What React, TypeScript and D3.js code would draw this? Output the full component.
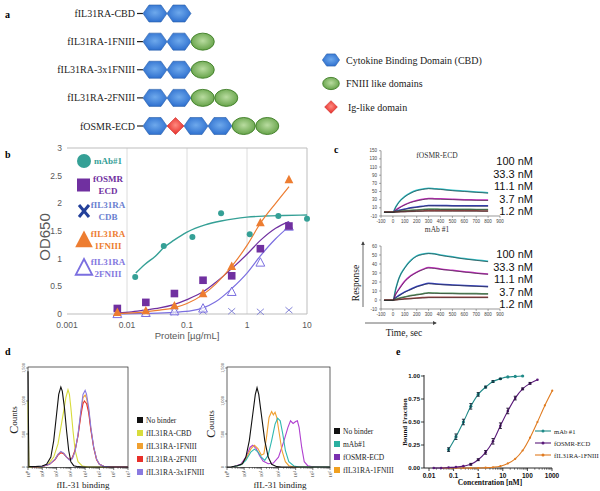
import React from "react";
import * as d3 from "d3";

const SERIF = "Liberation Serif, 'Times New Roman', serif";
const SANS = "Liberation Sans, Arial, sans-serif";

// ---------- Panel a ----------
const constructNames = ["fIL31RA-CBD", "fIL31RA-1FNIII", "fIL31RA-3x1FNIII", "fIL31RA-2FNIII", "fOSMR-ECD"];
const constructDomains = [
  ["CBD", "CBD"],
  ["CBD", "CBD", "FN"],
  ["CBD", "CBD", "FN"],
  ["CBD", "CBD", "FN", "FN"],
  ["CBD", "Ig", "CBD", "CBD", "FN", "FN"],
];
const domainLegend = ["Cytokine Binding Domain (CBD)", "FNIII like domains", "Ig-like domain"];

// ---------- Panel b ----------
const elisaDoses = [0.0069, 0.0206, 0.0617, 0.185, 0.556, 1.67, 5];
const mabDoses = [0.0137, 0.041, 0.123, 0.37, 1.11, 3.33, 10];
const mabOD = [0.67, 1.23, 1.39, 1.82, 1.44, 1.77, 1.72];
const osmrOD = [0.1, 0.21, 0.37, 0.61, 0.69, 1.18, 1.59];
const cbdOD = [0.01, 0.02, 0.03, 0.05, 0.05, 0.04, 0.07];
const fn1OD = [0.03, 0.06, 0.15, 0.37, 0.86, 1.65, 2.43];
const fn2OD = [0.0, 0.02, 0.05, 0.1, 0.4, 0.93, 1.58];
const mabFitX = [0.014, 0.02, 0.03, 0.041, 0.06, 0.1, 0.2, 0.37, 0.6, 1, 2, 4, 10];
const mabFitY = [0.74, 0.9, 1.05, 1.2, 1.33, 1.48, 1.61, 1.68, 1.72, 1.75, 1.77, 1.78, 1.79];
const osmrFitX = [0.007, 0.012, 0.02, 0.035, 0.06, 0.1, 0.185, 0.3, 0.556, 1, 1.67, 3, 5];
const osmrFitY = [0.02, 0.04, 0.07, 0.11, 0.17, 0.26, 0.4, 0.57, 0.82, 1.08, 1.33, 1.55, 1.67];
const fn1FitX = [0.007, 0.012, 0.02, 0.035, 0.06, 0.1, 0.185, 0.3, 0.556, 1, 1.67, 3, 5];
const fn1FitY = [0.01, 0.02, 0.04, 0.07, 0.11, 0.19, 0.35, 0.54, 0.86, 1.24, 1.64, 2.0, 2.3];
const fn2FitX = [0.007, 0.02, 0.06, 0.12, 0.185, 0.3, 0.556, 1, 1.67, 3, 5];
const fn2FitY = [0.0, 0.01, 0.03, 0.06, 0.11, 0.22, 0.46, 0.74, 1.05, 1.36, 1.58];
const bXTicks = [0.001, 0.01, 0.1, 1, 10];
const bXTickLabels = ["0.001", "0.01", "0.1", "1", "10"];
const bYTicks = [0, 0.5, 1, 1.5, 2, 2.5, 3];
const bLegendNames = [["mAb#1"], ["fOSMR", "ECD"], ["fIL31RA", "CDB"], ["fIL31RA", "1FNIII"], ["fIL31RA", "2FNIII"]];

// ---------- Panel c ----------
const kinT = [-75, 0, 25, 50, 100, 150, 200, 250, 300, 350, 400, 500, 600, 700, 800];
const osmr100 = [0, 0, 13, 24, 38, 47, 53, 56, 58, 57, 56, 53, 51, 49, 47];
const osmr33 = [0, 0, 5, 10, 18, 24, 28, 31, 33, 32.5, 32, 31, 30, 29.5, 29];
const osmr11 = [0, 0, 2, 4, 7, 10, 12, 14, 16, 15.8, 15.6, 15.4, 15.2, 15, 15];
const osmr37 = [0, 0, 0.8, 1.6, 3, 4, 5, 6, 7, 6.9, 6.8, 6.6, 6.4, 6.2, 6];
const osmr12 = [0, 0, 0.3, 0.6, 1.1, 1.6, 2, 2.5, 3, 3, 2.9, 2.8, 2.7, 2.6, 2.5];
const mab100 = [0, 0, 13, 24, 36, 44, 49, 51, 52, 51.5, 50, 48, 46, 44.5, 43];
const mab33 = [0, 0, 7, 12, 21, 27, 31, 34, 36, 35.5, 34.5, 33, 31.5, 30, 29];
const mab11 = [0, 0, 2.8, 5, 9, 12, 15, 17, 18.5, 18, 17.5, 16.8, 16.2, 15.6, 15];
const mab37 = [0, 0, 1, 2, 3.5, 5, 6, 7, 8, 7.8, 7.6, 7.4, 7.2, 7.1, 7];
const mab12 = [0, 0, 0.4, 0.7, 1.3, 1.8, 2.3, 2.7, 3, 3, 3, 3, 3, 3, 3];
const concLabels = ["100 nM", "33.3 nM", "11.1 nM", "3.7 nM", "1.2 nM"];
const cXTicks = [-100, 0, 100, 200, 300, 400, 500, 600, 700, 800, 900];
const cTopYTicks = [-10, 10, 30, 50, 70, 90, 110, 130, 150];
const cBotYTicks = [-10, 0, 10, 20, 30, 40, 50, 60];

// ---------- Panel d ----------
const histLeftNoBinder = [[0, 1450], [0.06, 5], [0.5, 5], [1, 15], [1.3, 40], [1.6, 150], [1.8, 400], [2.0, 800], [2.15, 1100], [2.3, 1210], [2.4, 1150], [2.55, 900], [2.7, 550], [2.85, 250], [3.0, 80], [3.2, 20], [3.5, 5], [4, 0], [7, 0]];
const histLeftCBD = [[0, 1000], [0.06, 0], [1.0, 0], [1.4, 40], [1.8, 150], [2.1, 350], [2.3, 600], [2.5, 850], [2.65, 1050], [2.8, 1170], [2.9, 1100], [3.0, 900], [3.15, 550], [3.3, 250], [3.5, 80], [3.8, 15], [4.2, 0], [7, 0]];
const histLeft1FN = [[0.3, 0], [1, 10], [1.5, 40], [1.9, 120], [2.1, 190], [2.3, 225], [2.5, 205], [2.7, 150], [2.9, 110], [3.1, 130], [3.3, 250], [3.5, 480], [3.7, 820], [3.85, 1050], [4.0, 1090], [4.1, 1040], [4.25, 860], [4.4, 580], [4.6, 300], [4.8, 120], [5.0, 40], [5.3, 10], [5.8, 0], [7, 0]];
const histLeft2FN = [[0.3, 0], [1, 10], [1.5, 40], [1.9, 110], [2.1, 180], [2.3, 215], [2.5, 200], [2.7, 150], [2.9, 115], [3.1, 140], [3.3, 260], [3.5, 470], [3.7, 780], [3.85, 960], [3.95, 1000], [4.1, 960], [4.25, 820], [4.4, 560], [4.6, 290], [4.8, 110], [5.0, 40], [5.3, 10], [5.8, 0], [7, 0]];
const histLeft3x1FN = [[0.3, 0], [1, 10], [1.5, 40], [1.9, 120], [2.1, 190], [2.3, 235], [2.5, 210], [2.7, 150], [2.9, 105], [3.1, 125], [3.3, 240], [3.5, 490], [3.7, 850], [3.85, 1100], [4.0, 1160], [4.1, 1100], [4.25, 900], [4.4, 600], [4.6, 300], [4.8, 120], [5.0, 40], [5.3, 10], [5.8, 0], [7, 0]];
const histRightNoBinder = [[0, 0], [0.2, 0], [0.6, 20], [0.9, 50], [1.1, 150], [1.3, 400], [1.5, 800], [1.65, 1100], [1.75, 1200], [1.85, 1100], [2.0, 800], [2.2, 400], [2.4, 150], [2.6, 40], [2.9, 5], [3.2, 0], [6, 0]];
const histRightMab = [[0.3, 0], [0.8, 30], [1.1, 100], [1.4, 230], [1.6, 270], [1.8, 230], [2.0, 150], [2.2, 100], [2.4, 180], [2.6, 400], [2.8, 650], [2.95, 740], [3.1, 700], [3.25, 500], [3.4, 250], [3.6, 80], [3.9, 15], [4.2, 0], [6, 0]];
const histRightOsmr = [[0.3, 0], [0.8, 40], [1.1, 150], [1.35, 300], [1.5, 330], [1.7, 280], [1.9, 170], [2.1, 90], [2.4, 50], [2.7, 60], [3.0, 150], [3.3, 380], [3.55, 600], [3.7, 700], [3.85, 660], [4.0, 690], [4.1, 700], [4.2, 600], [4.35, 300], [4.5, 80], [4.7, 20], [5.0, 5], [5.5, 0], [6, 0]];
const histRight1FN = [[0.3, 0], [0.8, 30], [1.1, 120], [1.4, 280], [1.6, 330], [1.8, 280], [2.0, 180], [2.15, 200], [2.3, 450], [2.45, 750], [2.6, 840], [2.7, 790], [2.8, 830], [2.9, 750], [3.05, 500], [3.2, 250], [3.4, 80], [3.6, 20], [3.9, 0], [6, 0]];
const dLeftLegend = ["No binder", "fIL31RA-CBD", "fIL31RA-1FNIII", "fIL31RA-2FNIII", "fIL31RA-3x1FNIII"];
const dRightLegend = ["No binder", "mAb#1", "fOSMR-ECD", "fIL31RA-1FNIII"];
const dYTicks = [0, 500, 1000, 1500];
const dYTickLabels = ["0", "500", "1,000", "1,500"];

// ---------- Panel e ----------
const eMabConc = [0.0625, 0.125, 0.25, 0.5, 1, 2, 4, 8, 16, 32, 64];
const eMabBF = [0.2, 0.34, 0.5, 0.67, 0.8, 0.88, 0.94, 0.97, 0.99, 0.995, 1.0];
const eMabErr = [0.02, 0.03, 0.03, 0.03, 0.02, 0.01, 0.01, 0.005, 0, 0, 0];
const eOsmrConc = [0.0156, 0.03125, 0.0625, 0.125, 0.25, 0.5, 1, 2, 4, 8, 16, 32, 64, 128, 256];
const eOsmrBF = [0, 0, 0.005, 0.01, 0.02, 0.04, 0.09, 0.17, 0.29, 0.46, 0.62, 0.76, 0.86, 0.92, 0.96];
const eOsmrErr = [0, 0, 0, 0, 0, 0.01, 0.01, 0.02, 0.03, 0.03, 0.03, 0.02, 0.01, 0.01, 0];
const eFnConc = [0.03125, 0.0625, 0.125, 0.25, 0.5, 1, 2, 4, 8, 16, 32, 64, 128, 256, 512, 1024];
const eFnBF = [0, 0, 0, 0, 0, 0, 0.003, 0.008, 0.02, 0.05, 0.1, 0.19, 0.33, 0.5, 0.68, 0.84];
const eXTicks = [0.01, 0.1, 1, 10, 100, 1000];
const eXTickLabels = ["0.01", "0.1", "1", "10", "100", "1000"];
const eYTicks = [0, 0.25, 0.5, 0.75, 1];
const eYTickLabels = ["0.00", "0.25", "0.50", "0.75", "1.00"];
const eLegend = ["mAb #1", "fOSMR-ECD", "fIL31RA-1FNIII"];

// ================= Components =================
function hexPath(w: number, h: number) {
  return `M${-w / 2},0L${-w / 4},${-h / 2}L${w / 4},${-h / 2}L${w / 2},0L${w / 4},${h / 2}L${-w / 4},${h / 2}Z`;
}
function diamondPath(s: number) {
  return `M${-s},0L0,${-s}L${s},0L0,${s}Z`;
}

function DomainShape({ kind, cx, cy, scale = 1 }: any) {
  if (kind === "CBD")
    return <path d={hexPath(24 * scale, 17 * scale)} transform={`translate(${cx},${cy})`} fill="url(#hexGrad)" stroke="#2a5faa" strokeWidth={0.6} />;
  if (kind === "FN")
    return <ellipse cx={cx} cy={cy} rx={11.5 * scale} ry={8.5 * scale} fill="url(#fnGrad)" stroke="#3d7d25" strokeWidth={0.9} />;
  return <path d={diamondPath(8.5 * scale)} transform={`translate(${cx},${cy})`} fill="url(#igGrad)" stroke="#c81a18" strokeWidth={0.5} />;
}

const domainW: any = { CBD: 24, FN: 23.5, Ig: 17 };

function PanelA() {
  const rowY = d3.scalePoint<string>().domain(constructNames).range([13.5, 126]);
  const legY = d3.scalePoint<string>().domain(domainLegend).range([60, 107]);
  const legKinds = ["CBD", "FN", "Ig"];
  return (
    <g>
      <text x={5} y={18} fontFamily={SERIF} fontWeight="bold" fontSize={10}>a</text>
      {constructNames.map((name, i) => {
        const y = rowY(name)!;
        let x = 143;
        const shapes = constructDomains[i].map((k, j) => {
          const w = domainW[k];
          const cx = x + w / 2;
          x += w;
          return <DomainShape key={j} kind={k} cx={cx} cy={y} />;
        });
        return (
          <g key={name}>
            <text x={135} y={y} textAnchor="end" dominantBaseline="central" fontFamily={SERIF} fontSize={10} fill="#222">{name}</text>
            <line x1={137} x2={143} y1={y} y2={y} stroke="#222" strokeWidth={1.2} />
            {shapes}
          </g>
        );
      })}
      {domainLegend.map((t, i) => {
        const y = legY(t)!;
        return (
          <g key={t}>
            <DomainShape kind={legKinds[i]} cx={331} cy={y} scale={i === 2 ? 0.75 : 0.72} />
            <text x={i === 2 ? 348 : 346} y={y} dominantBaseline="central" fontFamily={SERIF} fontSize={10} fill="#222">{t}</text>
          </g>
        );
      })}
    </g>
  );
}

function triPath(s: number) {
  return `M0,${-s * 0.6}L${s * 0.55},${s * 0.45}L${-s * 0.55},${s * 0.45}Z`;
}

function PanelB() {
  const x = d3.scaleLog().domain([0.001, 10]).range([67, 307]);
  const y = d3.scaleLinear().domain([0, 3]).range([314, 148]);
  const lg = d3.line<[number, number]>().x((d) => x(d[0])).y((d) => y(d[1])).curve(d3.curveMonotoneX);
  const zip = (a: number[], b: number[]) => a.map((v, i) => [v, b[i]] as [number, number]);
  const teal = "#35a096", purple = "#7030a0", orange = "#ed7d31", fn2c = "#7b6fe0", xcol = "#8585d8";
  const legY = [161, 185, 211, 240, 268];
  return (
    <g>
      <text x={5} y={158} fontFamily={SERIF} fontWeight="bold" fontSize={10}>b</text>
      {[0.01, 0.1, 1].map((t) => (
        <line key={t} x1={x(t)} x2={x(t)} y1={148} y2={314} stroke="#dcdcdc" strokeWidth={1} />
      ))}
      <line x1={67} x2={307} y1={148} y2={148} stroke="#bdbdbd" />
      <line x1={307} x2={307} y1={148} y2={314} stroke="#bdbdbd" />
      <line x1={67} x2={307} y1={314} y2={314} stroke="#bdbdbd" />
      {bYTicks.map((t) => (
        <text key={t} x={62} y={y(t)} textAnchor="end" dominantBaseline="central" fontFamily={SANS} fontSize={8.5} fill="#595959">{t}</text>
      ))}
      {bXTicks.map((t, i) => (
        <text key={t} x={x(t)} y={325} textAnchor="middle" dominantBaseline="central" fontFamily={SANS} fontSize={8.5} fill="#595959">{bXTickLabels[i]}</text>
      ))}
      <text transform="translate(44,237) rotate(-90)" textAnchor="middle" dominantBaseline="central" fontFamily={SANS} fontSize={15} fill="#595959">OD650</text>
      <text x={187} y={335} textAnchor="middle" dominantBaseline="central" fontFamily={SANS} fontSize={9.5} fill="#595959">Protein [µg/mL]</text>
      <path d={lg(zip(mabFitX, mabFitY))!} fill="none" stroke={teal} strokeWidth={1.4} />
      <path d={lg(zip(fn2FitX, fn2FitY))!} fill="none" stroke={fn2c} strokeWidth={1.2} />
      <path d={lg(zip(osmrFitX, osmrFitY))!} fill="none" stroke={purple} strokeWidth={1.2} />
      <path d={lg(zip(fn1FitX, fn1FitY))!} fill="none" stroke={orange} strokeWidth={1.2} />
      {mabDoses.map((d, i) => <circle key={"m" + i} cx={x(d)} cy={y(mabOD[i])} r={3} fill={teal} />)}
      {elisaDoses.map((d, i) => {
        const cx = x(d), cy = y(cbdOD[i]);
        return (
          <g key={"x" + i} stroke={xcol} strokeWidth={1}>
            <line x1={cx - 3.5} x2={cx + 3.5} y1={cy - 3} y2={cy + 3} />
            <line x1={cx - 3.5} x2={cx + 3.5} y1={cy + 3} y2={cy - 3} />
          </g>
        );
      })}
      {elisaDoses.map((d, i) => <path key={"t2" + i} d={triPath(8)} transform={`translate(${x(d)},${y(fn2OD[i])})`} fill="white" fillOpacity={0.6} stroke={fn2c} strokeWidth={1} />)}
      {elisaDoses.map((d, i) => <rect key={"s" + i} x={x(d) - 3.8} y={y(osmrOD[i]) - 3.8} width={7.6} height={7.6} fill={purple} />)}
      {elisaDoses.map((d, i) => <path key={"t1" + i} d={triPath(8)} transform={`translate(${x(d)},${y(fn1OD[i])})`} fill={orange} />)}
      <circle cx={84} cy={legY[0]} r={7} fill={teal} />
      <rect x={77} y={legY[1] - 6.5} width={13} height={13} fill={purple} />
      <g stroke="#23409a" strokeWidth={3}>
        <line x1={79} x2={89} y1={legY[2] - 6} y2={legY[2] + 6} />
        <line x1={79} x2={89} y1={legY[2] + 6} y2={legY[2] - 6} />
      </g>
      <path d={triPath(16)} transform={`translate(84,${legY[3]})`} fill={orange} />
      <path d={triPath(15)} transform={`translate(84,${legY[4]})`} fill="white" stroke={fn2c} strokeWidth={1.8} />
      {bLegendNames.map((lines, i) => {
        const cols = [teal, purple, "#6a80d0", orange, "#8478e0"];
        return (
          <text key={i} fontFamily={SERIF} fontWeight="bold" fontSize={9} fill={cols[i]} textAnchor={lines.length > 1 ? "middle" : "start"}>
            {lines.length === 1 ? (
              <tspan x={94} y={legY[i]} dominantBaseline="central">{lines[0]}</tspan>
            ) : (
              lines.map((l, j) => (
                <tspan key={j} x={108} y={legY[i] - 6 + j * 12} dominantBaseline="central">{l}</tspan>
              ))
            )}
          </text>
        );
      })}
    </g>
  );
}

const kinColors = ["#2fc4cc", "#cc30c8", "#3442c8", "#5a9a62", "#a84848"];

function KineticPlot({ title, titleY, yTicks, yDomain, yRange, series, labelRange }: any) {
  const x = d3.scaleLinear().domain([-100, 900]).range([381, 500]);
  const y = d3.scaleLinear().domain(yDomain).range(yRange);
  const lg = d3.line<number>().x((_, i) => x(kinT[i])).y((d) => y(d)).curve(d3.curveMonotoneX);
  const ly = d3.scalePoint<string>().domain(concLabels).range(labelRange);
  const yb = yRange[0];
  return (
    <g>
      <text x={437} y={titleY} textAnchor="middle" dominantBaseline="central" fontFamily={SERIF} fontSize={7.5} fill="#333">{title}</text>
      <line x1={381} x2={381} y1={yRange[1]} y2={yb} stroke="#555" strokeWidth={0.6} />
      <line x1={381} x2={500} y1={yb} y2={yb} stroke="#555" strokeWidth={0.6} />
      {yTicks.map((t: number) => (
        <g key={t}>
          <line x1={379} x2={381} y1={y(t)} y2={y(t)} stroke="#555" strokeWidth={0.5} />
          <text x={377} y={y(t)} textAnchor="end" dominantBaseline="central" fontFamily={SANS} fontSize={4.5} fill="#444">{t}</text>
        </g>
      ))}
      {cXTicks.map((t) => (
        <g key={t}>
          <line x1={x(t)} x2={x(t)} y1={yb} y2={yb + 2} stroke="#555" strokeWidth={0.5} />
          <text x={x(t)} y={yb + 5} textAnchor="middle" dominantBaseline="central" fontFamily={SANS} fontSize={4.5} fill="#444">{t}</text>
        </g>
      ))}
      {series.map((s: number[], i: number) => (
        <path key={"c" + i} d={lg(s)!} fill="none" stroke={kinColors[i]} strokeWidth={1.5} />
      ))}
      {series.map((s: number[], i: number) => (
        <path key={"k" + i} d={lg(s)!} fill="none" stroke="#333" strokeWidth={0.8} strokeOpacity={0.8} transform="translate(0,0.4)" />
      ))}
      {concLabels.map((c) => (
        <text key={c} x={533} y={ly(c)} textAnchor="end" dominantBaseline="central" fontFamily={SANS} fontSize={11} fill="#111">{c}</text>
      ))}
    </g>
  );
}

function PanelC() {
  return (
    <g>
      <text x={334} y={153} fontFamily={SERIF} fontWeight="bold" fontSize={10}>c</text>
      <KineticPlot title="fOSMR-ECD" titleY={155} yTicks={cTopYTicks} yDomain={[-10, 150]} yRange={[216, 150.7]} series={[osmr100, osmr33, osmr11, osmr37, osmr12]} labelRange={[161, 211]} />
      <KineticPlot title="mAb #1" titleY={229} yTicks={cBotYTicks} yDomain={[-10, 60]} yRange={[309, 246]} series={[mab100, mab33, mab11, mab37, mab12]} labelRange={[254, 304]} />
      <line x1={363} x2={363} y1={307} y2={242} stroke="#444" strokeWidth={0.8} markerEnd="url(#arrow)" />
      <line x1={365} x2={436} y1={323} y2={323} stroke="#444" strokeWidth={0.8} markerEnd="url(#arrow)" />
      <text transform="translate(356,283) rotate(-90)" textAnchor="middle" dominantBaseline="central" fontFamily={SERIF} fontSize={9.5} fill="#222">Response</text>
      <text x={404} y={333} textAnchor="middle" dominantBaseline="central" fontFamily={SERIF} fontSize={9.5} fill="#222">Time, sec</text>
    </g>
  );
}

const supers = ["⁰", "¹", "²", "³", "⁴", "⁵", "⁶", "⁷"];

function Histogram({ x0, x1, n, series, colors }: any) {
  const x = d3.scaleLinear().domain([0, n - 1]).range([x0, x1]);
  const y = d3.scaleLinear().domain([0, 1500]).range([467, 368]);
  const lg = d3.line<number[]>().x((d) => x(d[0])).y((d) => y(d[1]));
  const ticks = d3.range(n);
  return (
    <g>
      <rect x={x0} y={367} width={x1 - x0} height={100.5} fill="none" stroke="#222" strokeWidth={0.7} />
      {series.map((s: number[][], i: number) => (
        <path key={i} d={lg(s as any)!} fill="none" stroke={colors[i]} strokeWidth={1.1} />
      ))}
      {dYTicks.map((t, i) => (
        <g key={t}>
          <line x1={x0 - 2} x2={x0} y1={y(t)} y2={y(t)} stroke="#222" strokeWidth={0.5} />
          <text transform={`translate(${x0 - 5},${y(t)}) rotate(-90)`} textAnchor="middle" dominantBaseline="central" fontFamily={SERIF} fontSize={4.5} fill="#333">{dYTickLabels[i]}</text>
        </g>
      ))}
      {ticks.map((t) => (
        <g key={t}>
          <line x1={x(t)} x2={x(t)} y1={467} y2={470} stroke="#222" strokeWidth={0.6} />
          {t < n - 1 && d3.range(2, 10).map((m) => {
            const xm = x(t + Math.log10(m));
            return <line key={m} x1={xm} x2={xm} y1={467} y2={469} stroke="#222" strokeWidth={0.4} />;
          })}
          <text transform={`translate(${x(t)},${474}) rotate(-90)`} textAnchor="middle" dominantBaseline="central" fontFamily={SERIF} fontSize={5} fill="#333">{"10" + supers[t]}</text>
        </g>
      ))}
    </g>
  );
}

function PanelD() {
  const leftColors = ["#d8dc3c", "#f0a030", "#e8302a", "#8a7ae0", "#111"];
  const rightColors = ["#b040d0", "#f0a030", "#30b8b0", "#111"];
  const legLeftColors = ["#111", "#d8dc3c", "#f0a030", "#e8302a", "#8a7ae0"];
  const legRightColors = ["#111", "#2ab0a0", "#7a30b0", "#f0a020"];
  const lyL = d3.scalePoint<string>().domain(dLeftLegend).range([420, 472]);
  const lyR = d3.scalePoint<string>().domain(dRightLegend).range([431, 470]);
  return (
    <g>
      <text x={5} y={355} fontFamily={SERIF} fontWeight="bold" fontSize={10}>d</text>
      <Histogram x0={28} x1={128} n={8} series={[histLeftCBD, histLeft1FN, histLeft2FN, histLeft3x1FN, histLeftNoBinder]} colors={leftColors} />
      <Histogram x0={227} x1={330} n={7} series={[histRightOsmr, histRight1FN, histRightMab, histRightNoBinder]} colors={rightColors} />
      <text transform="translate(14,420) rotate(-90)" textAnchor="middle" dominantBaseline="central" fontFamily={SERIF} fontSize={9} fill="#222"><tspan fontSize={12}>C</tspan>ounts</text>
      <text transform="translate(211,424) rotate(-90)" textAnchor="middle" dominantBaseline="central" fontFamily={SERIF} fontSize={9} fill="#222"><tspan fontSize={12}>C</tspan>ounts</text>
      <text x={83} y={485} textAnchor="middle" dominantBaseline="central" fontFamily={SERIF} fontSize={9} fill="#222">fIL-31 binding</text>
      <text x={280} y={485} textAnchor="middle" dominantBaseline="central" fontFamily={SERIF} fontSize={9} fill="#222">fIL-31 binding</text>
      {dLeftLegend.map((t, i) => (
        <g key={t}>
          <rect x={137} y={lyL(t)! - 3} width={6} height={6} fill={legLeftColors[i]} />
          <text x={146} y={lyL(t)} dominantBaseline="central" fontFamily={SERIF} fontSize={7.5} fill="#222">{t}</text>
        </g>
      ))}
      {dRightLegend.map((t, i) => (
        <g key={t}>
          <rect x={334} y={lyR(t)! - 3} width={6} height={6} fill={legRightColors[i]} />
          <text x={343} y={lyR(t)} dominantBaseline="central" fontFamily={SERIF} fontSize={7.5} fill="#222">{t}</text>
        </g>
      ))}
    </g>
  );
}

function PanelE() {
  const x = d3.scaleLog().domain([0.01, 1000]).range([429, 552]);
  const y = d3.scaleLinear().domain([0, 1]).range([468, 376]);
  const zip = (a: number[], b: number[]) => a.map((v, i) => [v, b[i]] as [number, number]);
  const lg = d3.line<[number, number]>().x((d) => x(d[0])).y((d) => y(d[1])).curve(d3.curveMonotoneX);
  const teal = "#1f8a88", purple = "#5a1a7a", orange = "#e07b20";
  const minor: number[] = [];
  [0.01, 0.1, 1, 10, 100].forEach((dec) => d3.range(2, 10).forEach((m) => minor.push(dec * m)));
  const errBars = (conc: number[], vals: number[], errs: number[], col: string) =>
    conc.map((c, i) =>
      errs[i] > 0 ? (
        <g key={i} stroke={col} strokeWidth={0.9}>
          <line x1={x(c)} x2={x(c)} y1={y(vals[i] - errs[i])} y2={y(vals[i] + errs[i])} />
          <line x1={x(c) - 1.5} x2={x(c) + 1.5} y1={y(vals[i] - errs[i])} y2={y(vals[i] - errs[i])} />
          <line x1={x(c) - 1.5} x2={x(c) + 1.5} y1={y(vals[i] + errs[i])} y2={y(vals[i] + errs[i])} />
        </g>
      ) : null
    );
  const ly = d3.scalePoint<string>().domain(eLegend).range([431, 455]);
  const legCols = [teal, purple, orange];
  const ax = 424;
  return (
    <g>
      <text x={396} y={355} fontFamily={SERIF} fontWeight="bold" fontSize={10}>e</text>
      <line x1={ax} x2={ax} y1={375} y2={468} stroke="#111" strokeWidth={0.9} />
      <line x1={ax} x2={552} y1={468} y2={468} stroke="#111" strokeWidth={0.9} />
      {eYTicks.map((t, i) => (
        <g key={t}>
          <line x1={ax - 3} x2={ax} y1={y(t)} y2={y(t)} stroke="#111" strokeWidth={0.8} />
          <text x={ax - 4} y={y(t)} textAnchor="end" dominantBaseline="central" fontFamily={SANS} fontWeight="bold" fontSize={6} fill="#111">{eYTickLabels[i]}</text>
        </g>
      ))}
      {eXTicks.map((t, i) => (
        <g key={t}>
          <line x1={x(t)} x2={x(t)} y1={468} y2={471} stroke="#111" strokeWidth={0.8} />
          <text x={x(t)} y={475} textAnchor="middle" dominantBaseline="central" fontFamily={SANS} fontWeight="bold" fontSize={6.5} fill="#111">{eXTickLabels[i]}</text>
        </g>
      ))}
      {minor.map((m) => (
        <line key={m} x1={x(m)} x2={x(m)} y1={468} y2={469.8} stroke="#111" strokeWidth={0.5} />
      ))}
      <text transform="translate(405,422) rotate(-90)" textAnchor="middle" dominantBaseline="central" fontFamily={SERIF} fontWeight="bold" fontSize={7} fill="#111">Bound Fraction</text>
      <text x={490} y={482} textAnchor="middle" dominantBaseline="central" fontFamily={SERIF} fontWeight="bold" fontSize={7.5} fill="#111">Concentration [nM]</text>
      <path d={lg(zip(eFnConc, eFnBF))!} fill="none" stroke={orange} strokeWidth={1.1} />
      <path d={lg(zip(eOsmrConc, eOsmrBF))!} fill="none" stroke={purple} strokeWidth={1.1} />
      <path d={lg(zip(eMabConc, eMabBF))!} fill="none" stroke={teal} strokeWidth={1.1} />
      {eFnConc.map((c, i) => <circle key={"o" + i} cx={x(c)} cy={y(eFnBF[i])} r={1.1} fill={orange} />)}
      {eOsmrConc.map((c, i) => <circle key={"p" + i} cx={x(c)} cy={y(eOsmrBF[i])} r={1.3} fill={purple} />)}
      {eMabConc.map((c, i) => <circle key={"t" + i} cx={x(c)} cy={y(eMabBF[i])} r={1.6} fill={teal} />)}
      {errBars(eMabConc, eMabBF, eMabErr, "#123")}
      {errBars(eOsmrConc, eOsmrBF, eOsmrErr, "#201030")}
      {eLegend.map((t, i) => (
        <g key={t}>
          <line x1={535} x2={551} y1={ly(t)} y2={ly(t)} stroke={legCols[i]} strokeWidth={1.1} />
          <circle cx={543} cy={ly(t)} r={1.5} fill={legCols[i]} />
          <text x={554} y={ly(t)} dominantBaseline="central" fontFamily={SERIF} fontSize={6.6} fill="#222">{t}</text>
        </g>
      ))}
    </g>
  );
}

export default function App() {
  return (
    <svg width={600} height={491} viewBox="0 0 600 491" style={{ position: "absolute", left: 0, top: 0, background: "#fff" }}>
      <defs>
        <radialGradient id="hexGrad" cx="50%" cy="45%" r="60%">
          <stop offset="0%" stopColor="#6ea9ec" />
          <stop offset="100%" stopColor="#2a6ccd" />
        </radialGradient>
        <radialGradient id="fnGrad" cx="50%" cy="45%" r="60%">
          <stop offset="0%" stopColor="#b9dca0" />
          <stop offset="100%" stopColor="#5f9e42" />
        </radialGradient>
        <radialGradient id="igGrad" cx="50%" cy="45%" r="60%">
          <stop offset="0%" stopColor="#ff8a80" />
          <stop offset="100%" stopColor="#e2231f" />
        </radialGradient>
        <marker id="arrow" viewBox="0 0 10 10" refX="8" refY="5" markerWidth="5" markerHeight="5" orient="auto">
          <path d="M0,0L10,5L0,10Z" fill="#444" />
        </marker>
      </defs>
      <rect x={0} y={0} width={600} height={491} fill="#fff" />
      <PanelA />
      <PanelB />
      <PanelC />
      <PanelD />
      <PanelE />
    </svg>
  );
}
